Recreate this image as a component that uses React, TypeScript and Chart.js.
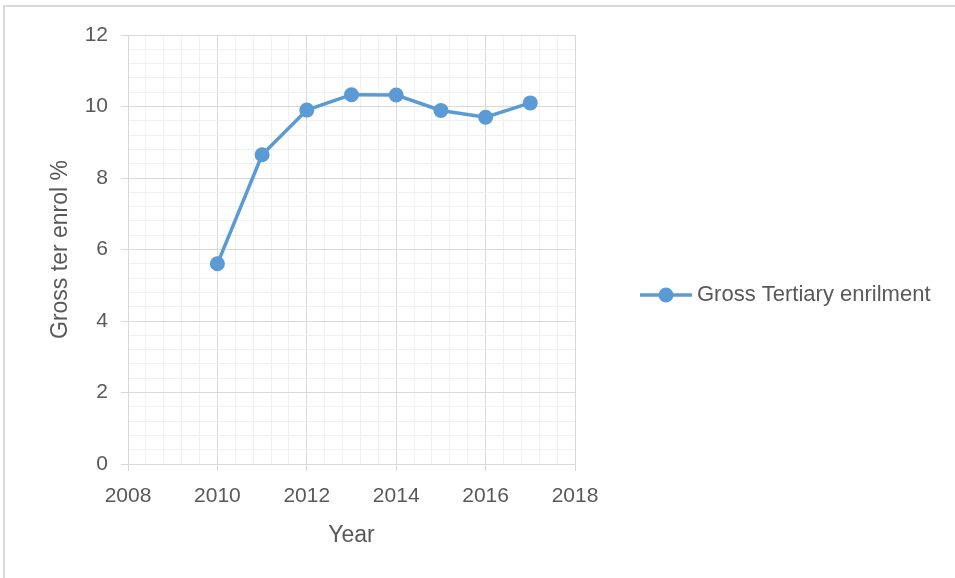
import React, { useEffect, useRef } from "react";
import { Chart, registerables } from "chart.js";

Chart.register(...registerables);

const years = [2010, 2011, 2012, 2013, 2014, 2015, 2016, 2017];
const enrolment = [5.6, 8.65, 9.9, 10.33, 10.32, 9.89, 9.7, 10.1];
const seriesName = "Gross Tertiary enrilment";
const xTitle = "Year";
const yTitle = "Gross ter enrol %";

const FONT = "'Liberation Sans', Arial, sans-serif";
const TEXT = "#595959";
const BLUE = "#5B9BD5";
const MAJOR = "#d9d9d9";
const MINOR = "#f0f0f0";

const isMajor = (v: number) => Math.abs(v / 2 - Math.round(v / 2)) < 1e-6;

// Legend drawn to the right of the plot, Excel style
const sideLegend = {
  id: "sideLegend",
  afterDraw(chart: any) {
    const ctx = chart.ctx;
    const y = 295;
    ctx.save();
    ctx.strokeStyle = BLUE;
    ctx.lineWidth = 3.5;
    ctx.beginPath();
    ctx.moveTo(640, y);
    ctx.lineTo(692, y);
    ctx.stroke();
    ctx.fillStyle = BLUE;
    ctx.beginPath();
    ctx.arc(666, y, 7.5, 0, Math.PI * 2);
    ctx.fill();
    ctx.fillStyle = TEXT;
    ctx.font = `22px ${FONT}`;
    ctx.textBaseline = "middle";
    ctx.textAlign = "left";
    ctx.fillText(seriesName, 697, y);
    ctx.restore();
  },
};

export default function App() {
  const ref = useRef<HTMLCanvasElement>(null);

  useEffect(() => {
    if (!ref.current) return;
    const chart = new Chart(ref.current, {
      type: "line",
      data: {
        datasets: [
          {
            label: seriesName,
            data: years.map((x, i) => ({ x, y: enrolment[i] })),
            borderColor: BLUE,
            backgroundColor: BLUE,
            borderWidth: 3.5,
            pointRadius: 7.5,
            pointHoverRadius: 7.5,
            pointBorderWidth: 0,
            tension: 0,
          },
        ],
      },
      options: {
        animation: false,
        responsive: false,
        layout: { padding: { left: 0, top: 35, right: 380, bottom: 0 } },
        plugins: { legend: { display: false }, tooltip: { enabled: false } },
        scales: {
          x: {
            type: "linear",
            min: 2008,
            max: 2018,
            afterFit: (s: any) => {
              s.height = 578 - 464;
            },
            ticks: {
              stepSize: 0.4,
              autoSkip: false,
              maxRotation: 0,
              padding: 13,
              color: TEXT,
              font: { family: FONT, size: 21 },
              callback: (v: any) => (isMajor(Number(v)) ? String(Math.round(Number(v))) : ""),
            },
            grid: {
              color: (c: any) => (isMajor(c.tick.value) ? MAJOR : MINOR),
              tickColor: (c: any) => (isMajor(c.tick.value) ? MAJOR : "rgba(0,0,0,0)"),
              tickLength: 7,
              lineWidth: 1,
            },
            border: { color: MAJOR, width: 1 },
            title: {
              display: true,
              text: xTitle,
              color: TEXT,
              font: { family: FONT, size: 23 },
              padding: { top: 0, bottom: 29 },
            },
          },
          y: {
            min: 0,
            max: 12,
            afterFit: (s: any) => {
              s.width = 128;
            },
            ticks: {
              stepSize: 0.4,
              autoSkip: false,
              padding: 13,
              color: TEXT,
              font: { family: FONT, size: 21 },
              callback: (v: any) => (isMajor(Number(v)) ? String(Math.round(Number(v))) : ""),
            },
            grid: {
              color: (c: any) => (isMajor(c.tick.value) ? MAJOR : MINOR),
              tickColor: (c: any) => (isMajor(c.tick.value) ? MAJOR : "rgba(0,0,0,0)"),
              tickLength: 7,
              lineWidth: 1,
            },
            border: { color: MAJOR, width: 1 },
            title: {
              display: true,
              text: yTitle,
              color: TEXT,
              font: { family: FONT, size: 23 },
              padding: { top: 47, bottom: 0 },
            },
          },
        },
      },
      plugins: [sideLegend],
    });
    return () => chart.destroy();
  }, []);

  return (
    <div style={{ position: "fixed", left: 0, top: 0, width: 955, height: 578, overflow: "hidden", background: "#fff" }}>
      <div
        style={{
          position: "absolute",
          left: 3,
          top: 5,
          width: 1100,
          height: 1100,
          border: "2px solid #d9d9d9",
          boxSizing: "border-box",
        }}
      />
      <canvas ref={ref} width={955} height={578} style={{ position: "absolute", left: 0, top: 0, display: "block" }} />
    </div>
  );
}
